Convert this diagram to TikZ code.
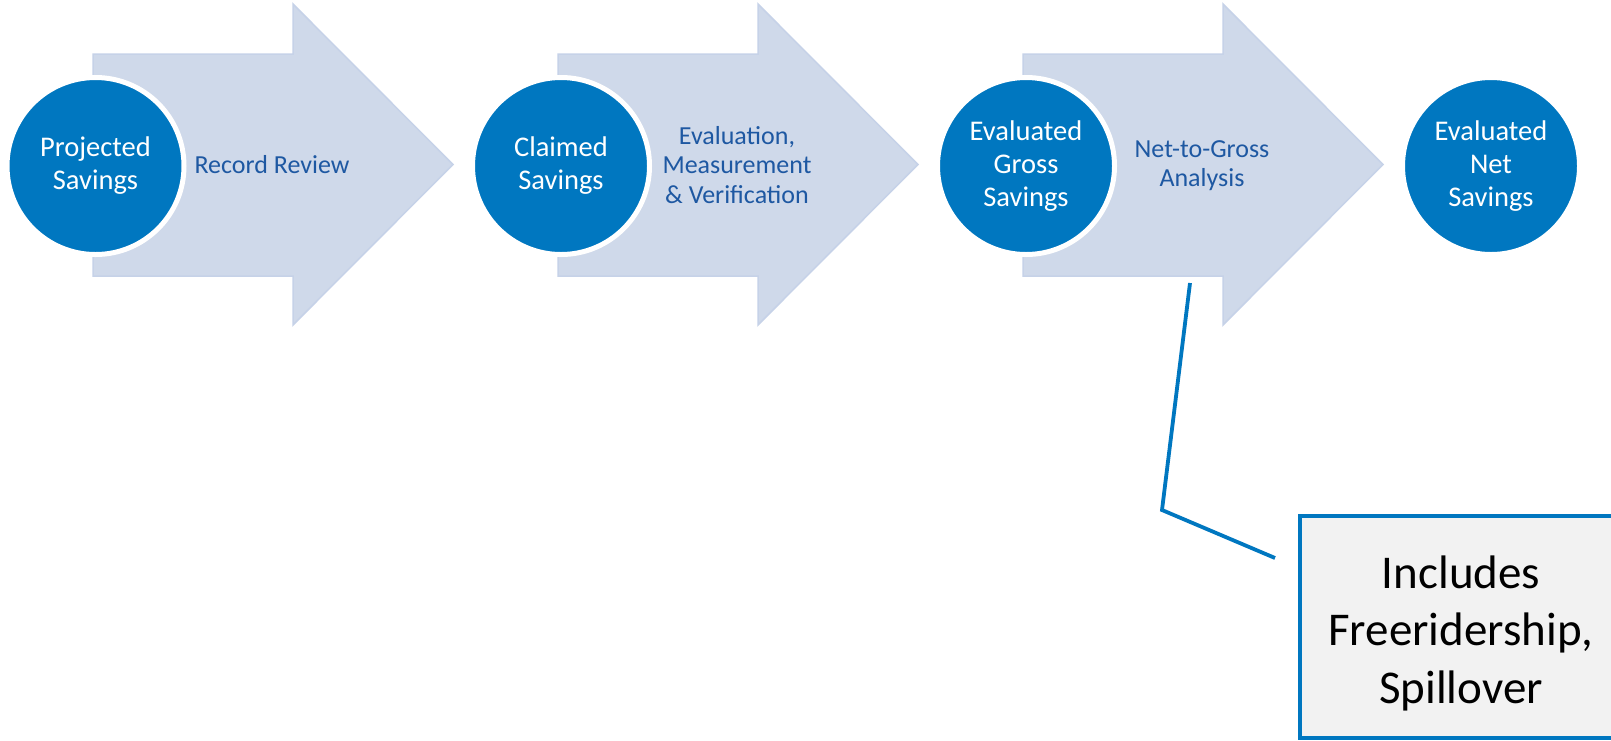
\documentclass[tikz,border=0pt]{standalone}
\usepackage{fontspec}
\setmainfont{Carlito}
\definecolor{cblue}{RGB}{0,119,192}
\definecolor{lblue}{RGB}{30,88,162}
\definecolor{afill}{RGB}{207,217,234}
\definecolor{aline}{RGB}{198,210,232}
\definecolor{bfill}{RGB}{242,242,242}
\begin{document}
\begin{tikzpicture}[x=1pt,y=-1pt,
  arrowshape/.style={fill=afill,draw=aline,line width=1.5pt,line join=miter},
  circ/.style={circle,fill=cblue,draw=white,line width=5pt,minimum size=177pt,inner sep=0pt,
    text=white,align=center,font=\fontsize{28.5}{33}\selectfont},
  lab/.style={text=lblue,align=center,inner sep=0pt,font=\fontsize{26}{29.5}\selectfont},
  notebox/.style={rectangle,fill=bfill,draw=cblue,line width=4pt,minimum width=322pt,
    minimum height=222pt,inner sep=0pt},
  notetext/.style={align=center,inner sep=0pt,text=black,font=\fontsize{47}{57.5}\selectfont},
  callout/.style={draw=cblue,line width=3.8pt}]
\useasboundingbox (0,0) rectangle (1611,740);
\clip (0,0) rectangle (1611,740);
\fill[white] (0,0) rectangle (1611,740);
\foreach \x in {93,558,1023}{
  \draw[arrowshape] (\x,54) -- ({\x+200},54) -- ({\x+200},4) -- ({\x+360},164.5)
    -- ({\x+200},325) -- ({\x+200},276) -- (\x,276) -- cycle;
}
\node[circ] (c1) at (95.5,166) {Projected\\Savings};
\node[circ] (c2) at (561,166) {Claimed\\Savings};
\node[circ] (c3) at (1026,166) {Evaluated\\Gross\\Savings};
\node[circ] (c4) at (1491,166) {Evaluated\\Net\\Savings};
\node[lab] (l1) at (272,165) {Record Review};
\node[lab] (l2) at (737,165) {Evaluation,\\Measurement\\\& Verification};
\node[lab] (l3) at (1202,165.5) {Net-to-Gross\\Analysis};
\node[notebox] (note) at (1461,627) {};
\node[notetext] (notet) at ([yshift=-6pt]note.center) {Includes\\Freeridership,\\Spillover};
\coordinate (p1) at (1190,283);
\coordinate (p2) at (1162,510);
\coordinate (p3) at (1275,558);
\draw[callout] (p1) -- (p2) -- (p3);
\end{tikzpicture}
\end{document}
